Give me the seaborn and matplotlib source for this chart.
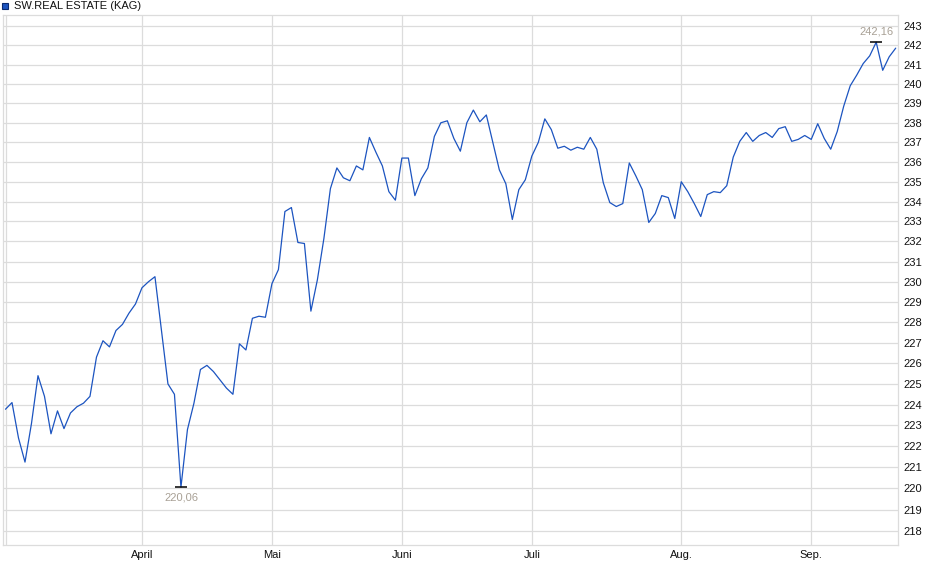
import numpy as np
import pandas as pd
import matplotlib
matplotlib.use("Agg")
import matplotlib.pyplot as plt
from matplotlib.ticker import FixedLocator, NullLocator, FixedFormatter
from matplotlib.patches import Rectangle
import seaborn as sns

# ---- data ----
series_name = "SW.REAL ESTATE (KAG)"
prices = [
    223.78, 224.1, 222.4, 221.25, 223.1, 225.4, 224.4, 222.6, 223.7, 222.85,
    223.6, 223.9, 224.07, 224.4, 226.3, 227.1, 226.8, 227.6, 227.9, 228.45,
    228.9, 229.7, 230.0, 230.25, 227.6, 225.0, 224.5, 220.06, 222.8, 224.07,
    225.7, 225.9, 225.6, 225.2, 224.8, 224.5, 226.95, 226.65, 228.2, 228.3,
    228.25, 229.9, 230.6, 233.5, 233.7, 231.95, 231.9, 228.55, 230.1, 232.15,
    234.65, 235.7, 235.2, 235.05, 235.8, 235.6, 237.25, 236.5, 235.8, 234.5,
    234.07, 236.2, 236.2, 234.3, 235.15, 235.7, 237.3, 238.0, 238.1, 237.2,
    236.55, 238.0, 238.65, 238.05, 238.4, 237.0, 235.6, 234.9, 233.1, 234.6,
    235.1, 236.3, 237.0, 238.2, 237.65, 236.7, 236.8, 236.6, 236.75, 236.65,
    237.25, 236.65, 234.95, 233.95, 233.75, 233.9, 235.95, 235.3, 234.6, 232.95,
    233.4, 234.3, 234.2, 233.15, 235.0, 234.5, 233.9, 233.25, 234.35, 234.5,
    234.45, 234.8, 236.25, 237.05, 237.5, 237.05, 237.35, 237.5, 237.25, 237.7,
    237.8, 237.05, 237.15, 237.35, 237.15, 237.95, 237.2, 236.65, 237.55, 238.85,
    239.9, 240.45, 241.05, 241.45, 242.16, 240.7, 241.4, 241.85,
]
month_labels = ["April", "Mai", "Juni", "Juli", "Aug.", "Sep."]
month_index = [21, 41, 61, 81, 104, 124]   # trading-day index of first day of month
y_ticks = list(range(218, 244))

df = pd.DataFrame({"t": np.arange(len(prices)), "price": prices})

# ---- figure ----
W, H = 940, 579
fig = plt.figure(figsize=(W / 100, H / 100), dpi=100)
sns.set_style("white")
plt.rcParams["font.family"] = ["Liberation Sans", "DejaVu Sans"]

L, R, T, B = 3, 898, 15, 545
ax = fig.add_axes([L / W, (H - B) / H, (R - L) / W, (B - T) / H])

grid_c = "#dcdcdc"
sns.lineplot(data=df, x="t", y="price", ax=ax, color="#1c54c0", linewidth=0.9, zorder=3)

ax.set_yscale("log")
ax.set_ylim(217.34, 243.58)
ax.set_xlim(-0.385, 137.354)

ax.yaxis.set_major_locator(FixedLocator(y_ticks))
ax.yaxis.set_major_formatter(FixedFormatter([str(v) for v in y_ticks]))
ax.yaxis.set_minor_locator(NullLocator())
ax.yaxis.tick_right()
ax.tick_params(axis="y", length=0, pad=4, labelsize=8, labelcolor="#111111")

ax.xaxis.set_major_locator(FixedLocator(month_index))
ax.xaxis.set_major_formatter(FixedFormatter(month_labels))
ax.xaxis.set_minor_locator(NullLocator())
ax.tick_params(axis="x", length=2, width=0.8, color=grid_c, pad=1.5, labelsize=8,
               labelcolor="#111111")

ax.grid(True, which="major", color=grid_c, linewidth=0.9, zorder=0)
ax.set_axisbelow(True)
ax.axvline(0, color=grid_c, linewidth=0.9, zorder=0)
for s in ax.spines.values():
    s.set_color(grid_c)
    s.set_linewidth(0.9)
ax.set_xlabel("")
ax.set_ylabel("")

# min / max markers
i_min = int(np.argmin(prices))
i_max = int(np.argmax(prices))
lab_c = "#a8a095"
for i, off, va in [(i_min, -4, "top"), (i_max, 4, "bottom")]:
    v = prices[i]
    ax.plot([i], [v], marker="_", markersize=8, color="black", markeredgewidth=1.1, zorder=4)
    ax.annotate(f"{v:.2f}".replace(".", ","), xy=(i, v), xytext=(0, off),
                textcoords="offset points", ha="center", va=va, fontsize=8, color=lab_c)

# legend box
fig.patches.append(Rectangle((2 / W, 1 - 9 / H), 6 / W, 6.5 / H, transform=fig.transFigure,
                             facecolor="#1c54c0", edgecolor="#0a2a70", linewidth=0.8))
fig.text(14 / W, 1 - 6 / H, series_name, fontsize=8, color="#111111", va="center", ha="left")

fig.savefig("out.png", dpi=100, facecolor="white")
